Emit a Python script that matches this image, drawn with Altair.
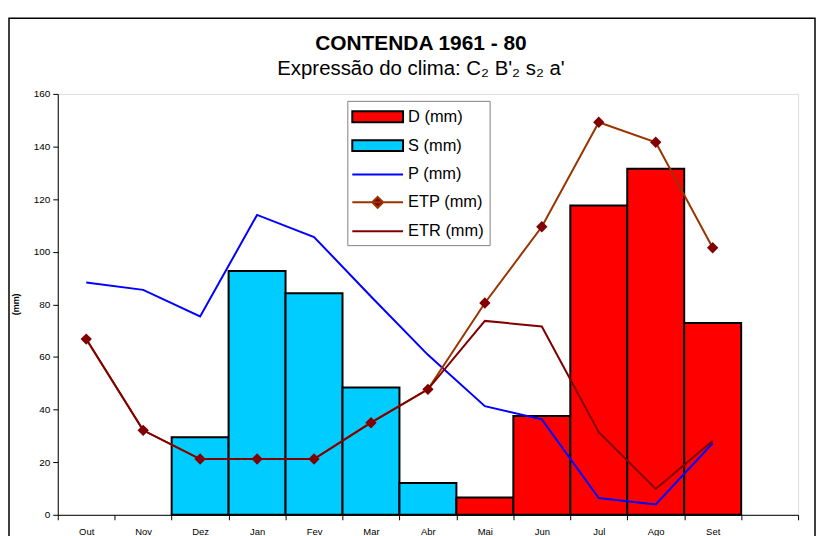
import altair as alt
import pandas as pd

months = ["Out", "Nov", "Dez", "Jan", "Fev", "Mar", "Abr", "Mai", "Jun", "Jul", "Ago", "Set"]
empty_slot = [" "]
S_mm = [None, None, 29.5, 92.7, 84.2, 48.4, 12.1, None, None, None, None, None]
D_mm = [None, None, None, None, None, None, None, 6.6, 37.6, 117.6, 131.5, 72.9]
P_mm = [88.3, 85.5, 75.4, 114.0, 105.6, 83.0, 60.8, 41.3, 36.3, 6.4, 3.9, 27.2]
ETP_mm = [66.8, 32.1, 21.2, 21.2, 21.2, 35.0, 47.7, 80.5, 109.5, 149.2, 141.6, 101.5]
ETR_mm = [66.8, 32.1, 21.2, 21.2, 21.2, 35.0, 47.7, 73.7, 71.6, 31.4, 9.8, 28.1]
y_ticks = [0, 20, 40, 60, 80, 100, 120, 140, 160]

series_names = ["D (mm)", "S (mm)", "P (mm)", "ETP (mm)", "ETR (mm)"]
series_colors = ["#FF0000", "#00CCFF", "#0000FF", "#993300", "#800000"]
COL = dict(zip(series_names, series_colors))
MARKER = "#800000"

FONT = "Liberation Sans"

# legend symbol glyphs (custom paths for the legend's shape scale)
RECT = "M-1.1,-0.55H4V0.55H-1.1Z"
LINE = "M-1.1,0H4"
LINE_DIAMOND = "M-1.1,0H4M1.45,-0.55L2,0L1.45,0.55L0.9,0Z"
legend_glyphs = [RECT, RECT, LINE, LINE_DIAMOND, LINE]

def bar_df(vals):
    rows = [{"month": m, "value": v} for m, v in zip(months, vals) if v is not None]
    return pd.DataFrame(rows)

def line_df(vals):
    return pd.DataFrame({"month": months, "value": vals, "order": list(range(len(months)))})

legend_df = pd.DataFrame({"series": series_names, "month": months[:5], "value": [0] * 5})

x_scale = alt.Scale(type="band", domain=months + empty_slot, paddingInner=0, paddingOuter=0)
y_scale = alt.Scale(domain=[0, 160], nice=False)

x_axis = alt.Axis(title=None, tickBand="extent", labelAngle=0, labelFont=FONT, labelFontSize=9.5,
                  labelColor="black", tickColor="black", domainColor="black", tickSize=5,
                  labelPadding=7, grid=False)
y_axis = alt.Axis(title="(mm)", values=y_ticks, grid=False, labelFont=FONT, labelFontSize=10,
                  labelColor="black", tickColor="black", domainColor="black", tickSize=5,
                  labelPadding=3, titleFont=FONT, titleFontSize=9, titleFontWeight="bold",
                  titleColor="black", titleX=-42, titleY=211, titleAlign="center",
                  titleBaseline="middle", titleAngle=270)

fill_expr = ("datum.value==='D (mm)'?'%s':datum.value==='S (mm)'?'%s':"
             "datum.value==='ETP (mm)'?'%s':'transparent'") % (COL["D (mm)"], COL["S (mm)"], MARKER)
stroke_expr = ("(datum.value==='D (mm)'||datum.value==='S (mm)')?'black':"
               "datum.value==='P (mm)'?'%s':datum.value==='ETP (mm)'?'%s':'%s'") % (
    COL["P (mm)"], COL["ETP (mm)"], COL["ETR (mm)"])

legend = alt.Legend(
    title=None, orient="none", legendX=291, legendY=7, direction="vertical",
    fillColor="white", strokeColor="#808080", padding=5,
    labelFont=FONT, labelFontSize=16.5, labelColor="black",
    labelExpr="datum.label + '  '",
    symbolSize=400, symbolStrokeWidth=2, symbolOpacity=1,
    symbolFillColor=alt.ExprRef(expr=fill_expr),
    symbolStrokeColor=alt.ExprRef(expr=stroke_expr),
    labelOffset=34, rowPadding=8,
)

X = alt.X("month:N", scale=x_scale)
Y = alt.Y("value:Q", scale=y_scale)

frame = alt.Chart(alt.Data(values=[{"f": 1}])).mark_rect(
    fillOpacity=0, stroke="black", strokeWidth=1.5
).encode(x=alt.value(-49), x2=alt.value(761), y=alt.value(-76), y2=alt.value(480))

bars_s = alt.Chart(bar_df(S_mm)).mark_bar(color=COL["S (mm)"], stroke="black", strokeWidth=2, opacity=1).encode(
    x=alt.X("month:N", scale=x_scale, axis=x_axis),
    y=alt.Y("value:Q", scale=y_scale, axis=y_axis),
)
bars_d = alt.Chart(bar_df(D_mm)).mark_bar(color=COL["D (mm)"], stroke="black", strokeWidth=2, opacity=1).encode(
    x=X, y=Y,
)

def line_layer(vals, c):
    return alt.Chart(line_df(vals)).mark_line(color=c, strokeWidth=2).encode(
        x=X, y=Y, order="order:Q",
    )

etp_pts = alt.Chart(line_df(ETP_mm)).mark_point(shape="diamond", filled=True, color=MARKER, size=130, opacity=1).encode(
    x=X, y=Y,
)

# invisible layer that only carries the legend
legend_layer = alt.Chart(legend_df).mark_point(filled=True, opacity=1, size=0, strokeWidth=0).encode(
    x=X, y=Y,
    shape=alt.Shape("series:N", scale=alt.Scale(domain=series_names, range=legend_glyphs), legend=legend),
    fill=alt.Fill("month:N", legend=None),
)

chart = alt.layer(frame, bars_s, bars_d,
                  line_layer(P_mm, COL["P (mm)"]),
                  line_layer(ETP_mm, COL["ETP (mm)"]),
                  line_layer(ETR_mm, COL["ETR (mm)"]),
                  etp_pts, legend_layer).properties(
    width=744, height=423,
    autosize=alt.AutoSizeParams(type="none"),
    padding={"left": 50, "top": 85, "right": 19, "bottom": 20},
    title=alt.TitleParams(
        "CONTENDA 1961 - 80",
        subtitle="Expressão do clima: C₂ B'₂ s₂ a'",
        font=FONT, fontSize=21, fontWeight="bold", color="black",
        subtitleFont=FONT, subtitleFontSize=20.5, subtitleColor="black",
        anchor="middle", offset=-62, subtitlePadding=5, dx=-7,
    ),
).configure_view(stroke="#808080", strokeWidth=1.5).configure(background="white")

chart.save("out.html", embed_options={"renderer": "svg", "actions": False})
